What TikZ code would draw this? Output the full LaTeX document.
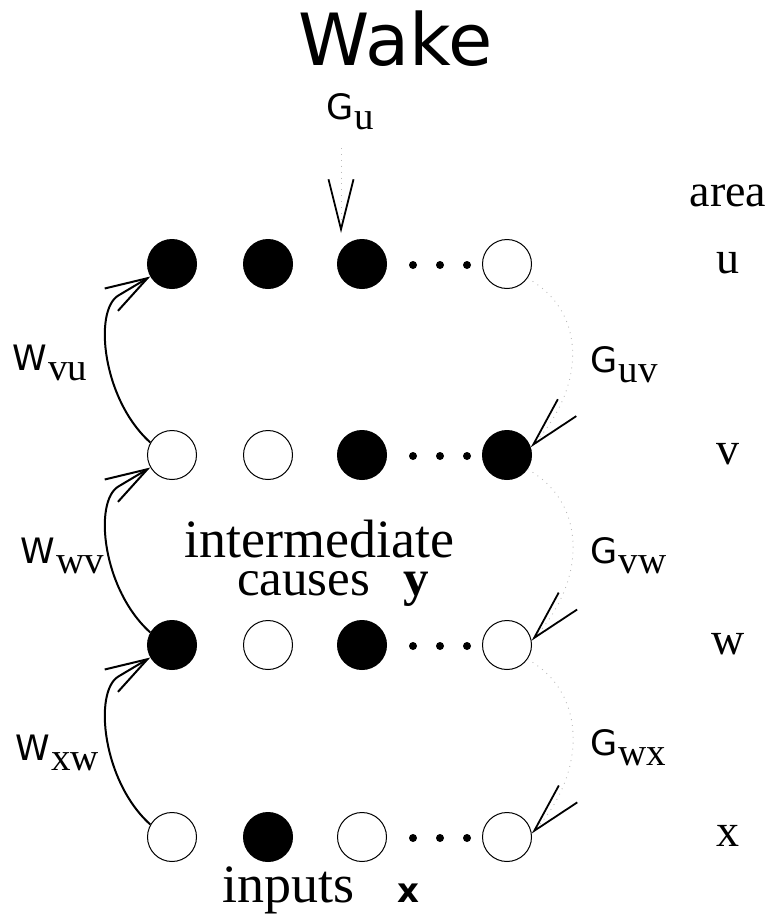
\documentclass[tikz,border=0pt]{standalone}
\usepackage{fontspec}
\setmainfont{Liberation Serif}
\setsansfont{DejaVu Sans}
\newfontfamily\labsans{DejaVu Sans}
\newfontfamily\labserif{Liberation Serif}
\usetikzlibrary{arrows.meta,calc}
\begin{document}
\begin{tikzpicture}[x=1pt,y=-1pt,
  unit/.style={circle, draw, line width=1pt, minimum size=49pt, inner sep=0pt},
  on/.style={unit, fill=black},
  off/.style={unit, fill=white},
  dotnode/.style={circle, fill=black, minimum size=8pt, inner sep=0pt},
  warr/.style={line width=2pt, -{Straight Barb[length=42pt,width=26pt,line width=2pt]}},
  garr/.style={gray!55, line width=0.9pt, dash pattern=on 0.9pt off 5pt, -{Straight Barb[length=50pt,width=25pt,line width=1.8pt,color=black]}},
  txt/.style={inner sep=0pt, anchor=base},
  big/.style={font=\labsans\fontsize{35}{35}\selectfont},
  sub/.style={font=\labserif\fontsize{39}{39}\selectfont, anchor=base west, yshift=-10pt, xshift=1pt},
  serif/.style={font=\labserif\fontsize{#1}{#1}\selectfont},
]
\useasboundingbox (0,0) rectangle (772,916);

% title
\node[txt, font=\labsans\fontsize{72}{72}\selectfont] (wake) at (396,65) {Wake};

% rows of units
\node[on]  (u1) at (172,264) {};
\node[on]  (u2) at (268,264) {};
\node[on]  (u3) at (362,264) {};
\node[off] (u4) at (507,264) {};
\node[off] (v1) at (172,455) {};
\node[off] (v2) at (268,455) {};
\node[on]  (v3) at (362,455) {};
\node[on]  (v4) at (507,455) {};
\node[on]  (w1) at (172,645) {};
\node[off] (w2) at (268,645) {};
\node[on]  (w3) at (362,645) {};
\node[off] (w4) at (507,645) {};
\node[off] (x1) at (172,837) {};
\node[on]  (x2) at (268,837) {};
\node[off] (x3) at (362,837) {};
\node[off] (x4) at (507,837) {};

% ellipsis dots
\foreach \r/\yy in {u/265,v/456,w/646,x/838}{
  \node[dotnode] (\r5) at (413,\yy) {};
  \node[dotnode] (\r6) at (440,\yy) {};
  \node[dotnode] (\r7) at (467,\yy) {};
}

% recognition (left) connections
\foreach \lo/\hi in {v1/u1, w1/v1, x1/w1}{
  \draw[warr] (\lo.150) .. controls +(-48,-43) and ($(\hi.210)+(-57,34)$) .. ($(\hi.210)+(-32,19)$) -- (\hi.210);
}

% generative (right) connections
\coordinate (gtop) at (341,148);
\coordinate (gtip) at (341,233);
\draw[garr] (gtop) -- (gtip);
\draw[garr] (u4.-35) .. controls +(60,33) and +(55,-60) .. (v4.18);
\draw[garr] (v4.-35) .. controls +(60,33) and +(55,-60) .. (w4.10);
\draw[garr] (w4.-35) .. controls +(60,33) and +(55,-60) .. (x4.8);

% weight labels: letter + subscript
\node[txt, big, anchor=base west] (Gu)  at (326,119) {G};
\node[txt, sub] (Gus) at (Gu.base east) {u};
\node[txt, big, anchor=base west] (Wvu) at (12,370) {W};
\node[txt, sub] (Wvus) at (Wvu.base east) {vu};
\node[txt, big, anchor=base west] (Wwv) at (20,563) {W};
\node[txt, sub] (Wwvs) at (Wwv.base east) {wv};
\node[txt, big, anchor=base west] (Wxw) at (15,760) {W};
\node[txt, sub] (Wxws) at (Wxw.base east) {xw};
\node[txt, big, anchor=base west] (Guv) at (590,372) {G};
\node[txt, sub] (Guvs) at (Guv.base east) {uv};
\node[txt, big, anchor=base west] (Gvw) at (590,563) {G};
\node[txt, sub] (Gvws) at (Gvw.base east) {vw};
\node[txt, big, anchor=base west] (Gwx) at (590,755) {G};
\node[txt, sub] (Gwxs) at (Gwx.base east) {wx};

% area labels
\node[txt, serif=46] (area) at (728,206) {area};
\node[txt, serif=46] (au) at (728,273) {u};
\node[txt, serif=46] (av) at (728,464) {v};
\node[txt, serif=46] (aw) at (728,654) {w};
\node[txt, serif=46] (ax) at (728,846) {x};

% captions
\node[txt, serif=54, text depth=0pt] (inter) at (319,557) {intermediate};
\node[txt, serif=51, anchor=base west, text height=24pt] (causes) at (237,595) {causes};
\node[txt, serif=51, anchor=base west, text height=24pt] (ybold) at (403,595) {\bfseries y};
\node[txt, serif=54, anchor=base west] (inputs) at (222,902) {inputs};
\node[txt, font=\labsans\bfseries\fontsize{34}{34}\selectfont, anchor=base west] (xbold) at (397,902) {x};
\end{tikzpicture}
\end{document}
